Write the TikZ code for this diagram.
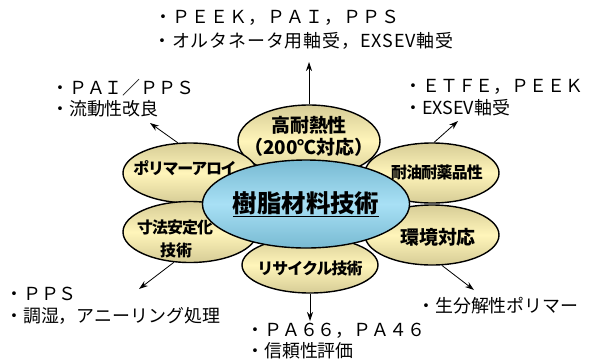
\documentclass[tikz,border=0pt]{standalone}
\usepackage{fontspec}
\setmainfont{Noto Sans CJK JP}
\usetikzlibrary{shapes.geometric,arrows.meta}
\definecolor{petalout}{HTML}{D6CC96}
\definecolor{petalin}{HTML}{FFF5BA}
\definecolor{hubout}{HTML}{78BAD2}
\definecolor{hubin}{HTML}{A8E0F5}
\tikzset{
  petal/.style={ellipse, draw=black, line width=1.4bp, inner sep=0pt,
    top color=petalout, bottom color=petalout, middle color=petalin},
  ptext/.style={inner sep=0pt, font=\fontsize{16}{22}\selectfont\bfseries, align=center},
  pbig/.style={inner sep=0pt, font=\fontsize{19}{22}\selectfont\bfseries, align=center},
  hub/.style={ellipse, draw=black, line width=1.4bp, inner sep=0pt,
    top color=hubout, bottom color=hubout, middle color=hubin,
    font=\fontsize{24.5}{26}\selectfont\bfseries},
  lbl/.style={anchor=west, inner sep=0pt, font=\fontsize{18}{20}\selectfont},
  arr/.style={-{Stealth[length=9bp,width=6bp]}, line width=0.8bp}
}
\begin{document}
\begin{tikzpicture}[x=1bp,y=-1bp]
\useasboundingbox (0,0) rectangle (594,362);
% petals
\node[petal, minimum width=142bp, minimum height=72bp] (ptop) at (309,141) {};
\node[petal, minimum width=136bp, minimum height=56bp] (pbot) at (310,265) {};
\node[petal, minimum width=134bp, minimum height=60bp] (pl1) at (190,173) {};
\node[petal, minimum width=134bp, minimum height=61bp] (pl2) at (190,232) {};
\node[petal, minimum width=134bp, minimum height=60bp] (pr1) at (432,173) {};
\node[petal, minimum width=134bp, minimum height=60bp] (pr2) at (432,235) {};
% hub
\node[hub, minimum width=182bp, minimum height=88bp] (hub) at (306,204) {\underline{樹脂材料技術}};
% petal texts
\node[pbig] (ttop1) at (309,125) {高耐熱性};
\node[pbig] (ttop2) at (309,147) {（200℃対応）};
\node[ptext] (tbot1) at (310,268) {\addfontfeature{LetterSpace=-6}リサイクル技術};
\node[ptext] (tl11) at (185,168) {\addfontfeature{LetterSpace=-8}ポリマーアロイ};
\node[ptext] (tl21) at (175,227) {\addfontfeature{LetterSpace=-6}寸法安定化};
\node[ptext] (tl22) at (176,250) {技術};
\node[ptext] (tr11) at (437,172) {\addfontfeature{LetterSpace=-5}耐油耐薬品性};
\node[pbig] (tr21) at (438,237) {環境対応};
% free ends
\coordinate (ttop) at (309,62);
\coordinate (tl1) at (150,123);
\coordinate (tr1) at (458,121);
\coordinate (tl2) at (139,289);
\coordinate (tr2) at (474,290);
\coordinate (tbot) at (310,321);
% arrows
\draw[arr] (ptop.north) -- (ttop);
\draw[arr] (pl1.112) -- (tl1);
\draw[arr] (pr1.86) -- (tr1);
\draw[arr] (pl2.-118) -- (tl2);
\draw[arr] (pr2.-72) -- (tr2);
\draw[arr] (pbot.south) -- (tbot);
% labels
\node[lbl] (a1) at (154,18) {・{\addfontfeature{LetterSpace=6}ＰＥＥＫ，ＰＡＩ，ＰＰＳ}};
\node[lbl] (a2) at (153,41) {\addfontfeature{LetterSpace=5}・オルタネータ用軸受，EXSEV軸受};
\node[lbl] (b1) at (51,88) {・ＰＡＩ／ＰＰＳ};
\node[lbl] (b2) at (51,109) {・流動性改良};
\node[lbl] (c1) at (404,87) {・ＥＴＦＥ，ＰＥＥＫ};
\node[lbl] (c2) at (404,108) {・EXSEV軸受};
\node[lbl] (d1) at (5,294) {・ＰＰＳ};
\node[lbl] (d2) at (5,316) {・調湿，アニーリング処理};
\node[lbl] (e1) at (246,331) {・ＰＡ６６，ＰＡ４６};
\node[lbl] (e2) at (246,351) {・信頼性評価};
\node[lbl] (f1) at (417,306) {・生分解性ポリマー};
\end{tikzpicture}
\end{document}
